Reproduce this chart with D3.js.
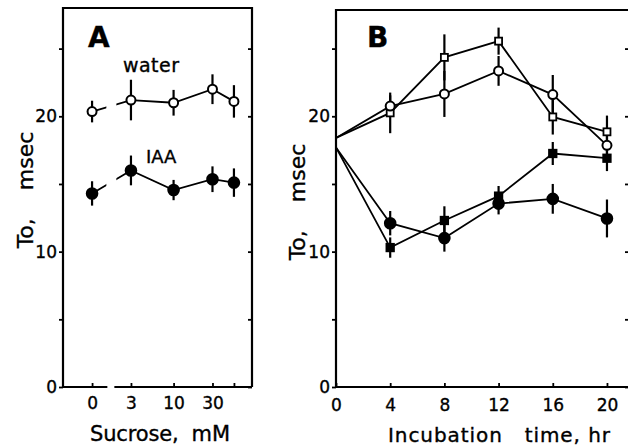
<!DOCTYPE html>
<html><head><meta charset="utf-8">
<script src="https://cdn.jsdelivr.net/npm/d3@7"></script>
<style>
html,body{margin:0;padding:0;background:#fff;}
svg{display:block;}
text{font-family:"DejaVu Sans",sans-serif;fill:#000;stroke:#000;stroke-width:0.35px;}
</style></head><body>
<svg id="chart" width="628" height="448"></svg>
<script>
// ---------- Panel A: sucrose ----------
const sucroseLabels = ["0", "3", "10", "30", ""];
const sucroseAxis = [1, 3, 10, 30, 55];          // log axis; "0" drawn at the break position
const waterMean = [20.35, 21.2, 21.0, 22.0, 21.1];
const waterErr  = [0.8, 1.5, 0.95, 1.1, 1.2];
const iaaMean   = [14.3, 16.0, 14.55, 15.35, 15.1];
const iaaErr    = [0.9, 1.1, 0.75, 0.95, 1.05];

// ---------- Panel B: incubation time ----------
const hours = [0, 4, 8, 12, 16, 20];
const openSquareMean   = [18.4, 20.25, 24.35, 25.55, 19.95, 18.85];
const openSquareErr    = [0, 1.5, 1.7, 1.0, 1.3, 1.2];
const openCircleMean   = [18.4, 20.75, 21.65, 23.35, 21.6, 17.85];
const openCircleErr    = [0, 0.8, 1.7, 1.1, 1.45, 0.8];
const filledSquareMean = [17.7, 10.3, 12.3, 14.1, 17.25, 16.9];
const filledSquareErr  = [0, 0.75, 1.05, 0.75, 0.85, 0.95];
const filledCircleMean = [17.7, 12.1, 11.0, 13.55, 13.9, 12.45];
const filledCircleErr  = [0, 0.9, 1.0, 0.8, 1.1, 1.4];

const yTicks = [0, 5, 10, 15, 20, 25];
const yTickLabels = [0, 10, 20];
const hourTicks = [0, 4, 8, 12, 16, 20];

// ---------- layout ----------
const svg = d3.select("#chart");
const A = {l: 63, r: 252, t: 8, b: 387};
const B = {l: 336, r: 630, t: 10, b: 387};

const yA = d3.scaleLinear().domain([0, 28]).range([A.b, A.t]);
const yB = d3.scaleLinear().domain([0, 27.85]).range([B.b, B.t]);
const xA = d3.scaleLog().domain([0.44, 91.6]).range([A.l, A.r]);
const xB = d3.scaleLinear().domain([0, 21.7]).range([B.l, B.r]);

const FRAME = 2.2, LINE = 1.8, ERR = 2.2;

function styleAxis(g, size) {
  g.attr("font-size", size).attr("font-family", '"DejaVu Sans",sans-serif');
  g.select(".domain").remove();
  g.selectAll(".tick line").attr("stroke", "#000").attr("stroke-width", 1.8);
  g.selectAll(".tick text").attr("fill", "#000");
}

// ---------- axes A ----------
svg.append("g").attr("transform", `translate(${A.l},0)`)
  .call(d3.axisLeft(yA).tickValues(yTicks).tickSize(4).tickPadding(2)
    .tickFormat(d => yTickLabels.includes(d) ? d : ""))
  .call(g => styleAxis(g, 17));
svg.append("g").attr("transform", `translate(${A.r},0)`)
  .call(d3.axisRight(yA).tickValues(yTicks).tickSize(-4).tickFormat(""))
  .call(g => styleAxis(g, 17));
svg.append("g").attr("transform", `translate(0,${A.b})`)
  .call(d3.axisBottom(xA).tickValues(sucroseAxis).tickSize(-4).tickPadding(10)
    .tickFormat((d, i) => sucroseLabels[i]))
  .call(g => styleAxis(g, 17));

// frame A with axis break on bottom
const breakC = xA(1.7), breakHalf = 3.5;
const frameA = svg.append("g").attr("stroke", "#000").attr("stroke-width", FRAME).attr("fill", "none");
frameA.append("path").attr("d", `M${A.l},${A.b}V${A.t}H${A.r}V${A.b}`);
frameA.append("line").attr("x1", A.l).attr("x2", breakC - breakHalf).attr("y1", A.b).attr("y2", A.b);
frameA.append("line").attr("x1", breakC + breakHalf).attr("x2", A.r).attr("y1", A.b).attr("y2", A.b);

// ---------- axes B ----------
svg.append("g").attr("transform", `translate(${B.l},0)`)
  .call(d3.axisLeft(yB).tickValues(yTicks).tickSize(4).tickPadding(2)
    .tickFormat(d => yTickLabels.includes(d) ? d : ""))
  .call(g => styleAxis(g, 17));
svg.append("g").attr("transform", `translate(${B.r},0)`)
  .call(d3.axisRight(yB).tickValues(yTicks).tickSize(-5).tickFormat(""))
  .call(g => styleAxis(g, 17));
svg.append("g").attr("transform", `translate(0,${B.b})`)
  .call(d3.axisBottom(xB).tickValues(hourTicks).tickSize(-4).tickPadding(12))
  .call(g => styleAxis(g, 17));
svg.append("path").attr("d", `M${B.l},${B.b}V${B.t}H${B.r}V${B.b}Z`)
  .attr("fill", "none").attr("stroke", "#000").attr("stroke-width", FRAME);

// ---------- clip for the axis break in A ----------
const defs = svg.append("defs");
const cp = defs.append("clipPath").attr("id", "breakClip");
cp.append("rect").attr("x", 0).attr("y", 0).attr("width", breakC - breakHalf - 1).attr("height", 448);
cp.append("rect").attr("x", breakC + breakHalf + 2).attr("y", 0).attr("width", 628).attr("height", 448);

// ---------- series drawing helper ----------
function drawSeries(g, xs, means, errs, x, y, skipFirstMarker, clip) {
  const pts = xs.map((v, i) => ({x: v, m: means[i], e: errs[i], i}));
  const line = d3.line().x(d => x(d.x)).y(d => y(d.m));
  const p = g.append("path").datum(pts).attr("d", line)
    .attr("fill", "none").attr("stroke", "#000").attr("stroke-width", LINE);
  if (clip) p.attr("clip-path", "url(#breakClip)");
  const mk = pts.filter(d => !(skipFirstMarker && d.i === 0));
  g.selectAll(null).data(mk.filter(d => d.e > 0)).join("line")
    .attr("x1", d => x(d.x)).attr("x2", d => x(d.x))
    .attr("y1", d => y(d.m - d.e)).attr("y2", d => y(d.m + d.e))
    .attr("stroke", "#000").attr("stroke-width", ERR);
  return mk;
}
function drawMarkers(g, mk, x, y, shape, filled) {
  if (shape === "circle") {
    g.selectAll(null).data(mk).join("circle")
      .attr("cx", d => x(d.x)).attr("cy", d => y(d.m))
      .attr("r", filled ? 5.3 : 4.5)
      .attr("fill", filled ? "#000" : "#fff").attr("stroke", "#000").attr("stroke-width", 2);
  } else {
    const s = filled ? 7.5 : 7;
    g.selectAll(null).data(mk).join("rect")
      .attr("x", d => x(d.x) - s / 2).attr("y", d => y(d.m) - s / 2)
      .attr("width", s).attr("height", s)
      .attr("fill", filled ? "#000" : "#fff").attr("stroke", "#000").attr("stroke-width", 1.8);
  }
}

// ---------- panel A data ----------
const gA = svg.append("g");
const mW = drawSeries(gA, sucroseAxis, waterMean, waterErr, xA, yA, false, true);
const mI = drawSeries(gA, sucroseAxis, iaaMean, iaaErr, xA, yA, false, true);
drawMarkers(gA, mW, xA, yA, "circle", false);
drawMarkers(gA, mI, xA, yA, "circle", true);

// ---------- panel B data ----------
const gB = svg.append("g");
const series = [
  [openSquareMean, openSquareErr, "square", false],
  [openCircleMean, openCircleErr, "circle", false],
  [filledSquareMean, filledSquareErr, "square", true],
  [filledCircleMean, filledCircleErr, "circle", true]
];
const mks = series.map(s => drawSeries(gB, hours, s[0], s[1], xB, yB, true, false));
series.forEach((s, k) => drawMarkers(gB, mks[k], xB, yB, s[2], s[3]));

// ---------- text ----------
svg.append("text").attr("x", 88).attr("y", 47).attr("font-size", 28).attr("font-weight", "bold").text("A");
svg.append("text").attr("x", 367).attr("y", 47).attr("font-size", 28).attr("font-weight", "bold").text("B");
svg.append("text").attr("x", 123).attr("y", 72).attr("font-size", 19)
  .attr("textLength", 56).attr("lengthAdjust", "spacing").text("water");
svg.append("text").attr("x", 146).attr("y", 163).attr("font-size", 18).text("IAA");

function yTitle(cx, cy) {
  const t = svg.append("text").attr("transform", `translate(${cx},${cy}) rotate(-90)`)
    .attr("text-anchor", "middle").attr("font-size", 22);
  t.append("tspan").text("To,");
  t.append("tspan").attr("dx", 28).text("msec");
}
yTitle(33, 190);
yTitle(305, 202);

svg.append("text").attr("x", 90).attr("y", 441).attr("font-size", 21)
  .attr("textLength", 140).attr("lengthAdjust", "spacing").style("white-space", "pre")
  .text("Sucrose,  mM");
svg.append("text").attr("x", 388).attr("y", 442).attr("font-size", 20)
  .attr("textLength", 222).attr("lengthAdjust", "spacing").style("white-space", "pre")
  .text("Incubation   time, hr");
</script>
</body></html>
